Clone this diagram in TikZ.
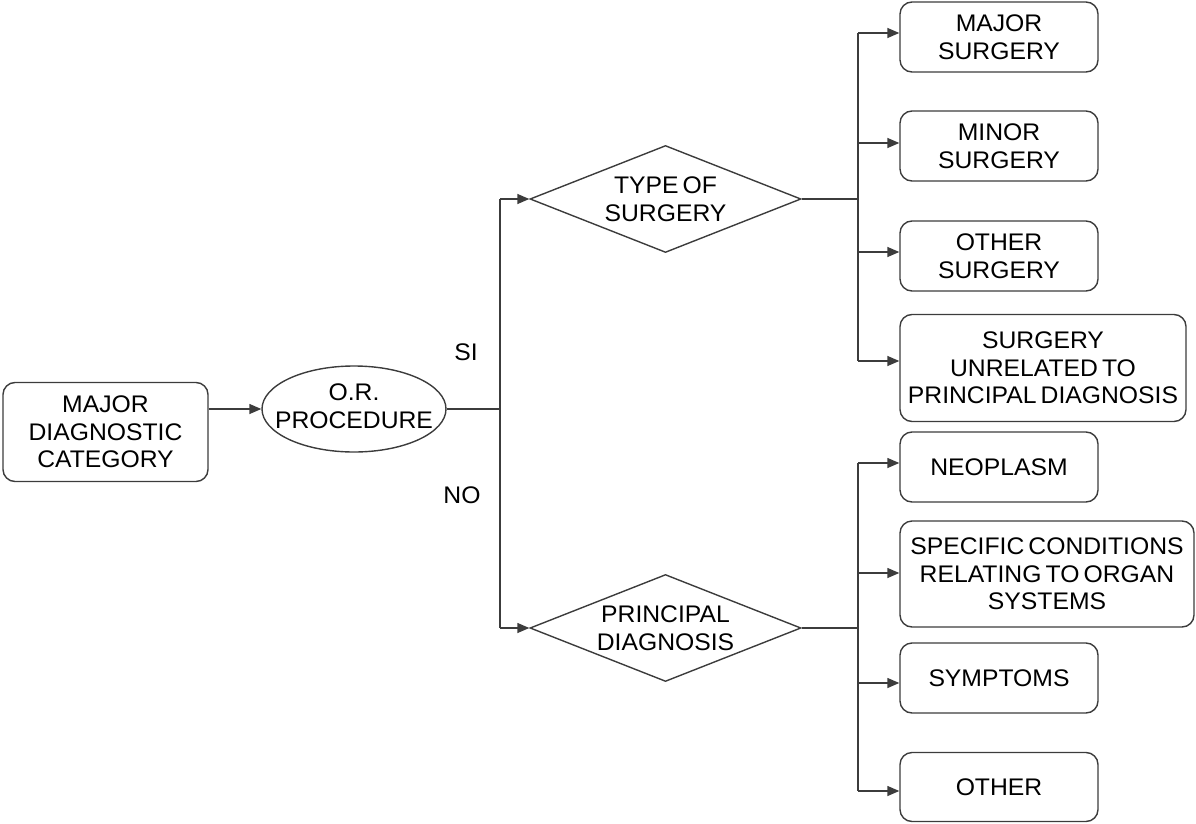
\documentclass[tikz,border=0pt]{standalone}
\usepackage{fontspec}
\setmainfont[WordSpace=0.6,FakeStretch=1.03]{Liberation Sans}
\usetikzlibrary{shapes.geometric,arrows.meta}
\definecolor{edge}{RGB}{60,60,60}
\begin{document}
\begin{tikzpicture}[x=1pt,y=-1pt,
  every node/.style={font=\fontsize{24}{27.5}\selectfont, text=black},
  box/.style={draw=edge, line width=1.4pt, rounded corners=12pt, inner sep=0pt, align=center},
  oval/.style={draw=edge, line width=1.4pt, ellipse, inner sep=0pt, minimum width=184pt, minimum height=86pt},
  decision/.style={draw=edge, line width=1.4pt, diamond, inner sep=0pt, minimum width=271pt, minimum height=107pt},
  ln/.style={draw=edge, line width=1.4pt},
  arr/.style={ln, -{Triangle[length=12pt,width=10pt]}}]
\useasboundingbox (0,0) rectangle (1196,824);

% left part
\node[box, minimum width=205pt, minimum height=99pt] (mdc) at (105.5,432) {MAJOR\\DIAGNOSTIC\\CATEGORY};
\node[oval] (orp) at (354,409) {};
\node[align=center] at ([yshift=3pt]orp.center) {O.R.\\PROCEDURE};

% decisions
\node[decision] (tos) at (665.5,199) {};
\node[align=center] at (tos) {TYPE OF\\SURGERY};
\node[decision] (pd) at (665.5,628) {};
\node[align=center] at (pd) {PRINCIPAL\\DIAGNOSIS};

% surgery outcomes
\node[box, minimum width=198pt, minimum height=70pt] (maj) at (999,37) {MAJOR\\SURGERY};
\node[box, minimum width=198pt, minimum height=70pt] (min) at (999,146) {MINOR\\SURGERY};
\node[box, minimum width=198pt, minimum height=70pt] (oth) at (999,256) {OTHER\\SURGERY};
\node[box, minimum width=286pt, minimum height=107pt] (unr) at (1043,368) {SURGERY\\UNRELATED TO\\PRINCIPAL DIAGNOSIS};

% diagnosis outcomes
\node[box, minimum width=198pt, minimum height=70pt] (neo) at (999,467) {NEOPLASM};
\node[box, minimum width=294pt, minimum height=106pt] (spc) at (1047,574) {SPECIFIC CONDITIONS\\RELATING TO ORGAN\\SYSTEMS};
\node[box, minimum width=198pt, minimum height=70pt] (sym) at (999,678) {SYMPTOMS};
\node[box, minimum width=198pt, minimum height=69pt] (otr) at (999,787) {OTHER};

% branch labels
\node (si) at (466,352) {SI};
\node (no) at (462,495) {NO};

% junction points
\coordinate (sp) at (500,409);
\coordinate (spt) at (500,199);
\coordinate (spb) at (500,628);
\coordinate (tr) at (858,0);

% main flow
\draw[arr] (mdc.east |- orp.west) -- (orp.west);
\draw[ln] (orp.east) -- (sp);
\draw[ln] (spt) -- (spb);
\draw[arr] (spt) -- (tos.west);
\draw[arr] (spb) -- (pd.west);

% arrow heights on the outcome boxes
\path ([yshift=4pt]maj.west) coordinate (pmaj)
      ([yshift=3pt]min.west) coordinate (pmin)
      ([yshift=4pt]oth.west) coordinate (poth)
      ([yshift=7pt]unr.west) coordinate (punr)
      ([yshift=4pt]neo.west) coordinate (pneo)
      ([yshift=1pt]spc.west) coordinate (pspc)
      ([yshift=-5pt]sym.west) coordinate (psym)
      ([yshift=-4pt]otr.west) coordinate (potr);

% upper fan
\draw[ln] (tos.east) -- (tr |- tos.east);
\draw[ln] (tr |- pmaj) -- (tr |- punr);
\foreach \p in {pmaj,pmin,poth,punr} \draw[arr] (tr |- \p) -- (\p);

% lower fan
\draw[ln] (pd.east) -- (tr |- pd.east);
\draw[ln] (tr |- pneo) -- (tr |- potr);
\foreach \p in {pneo,pspc,psym,potr} \draw[arr] (tr |- \p) -- (\p);
\end{tikzpicture}
\end{document}
